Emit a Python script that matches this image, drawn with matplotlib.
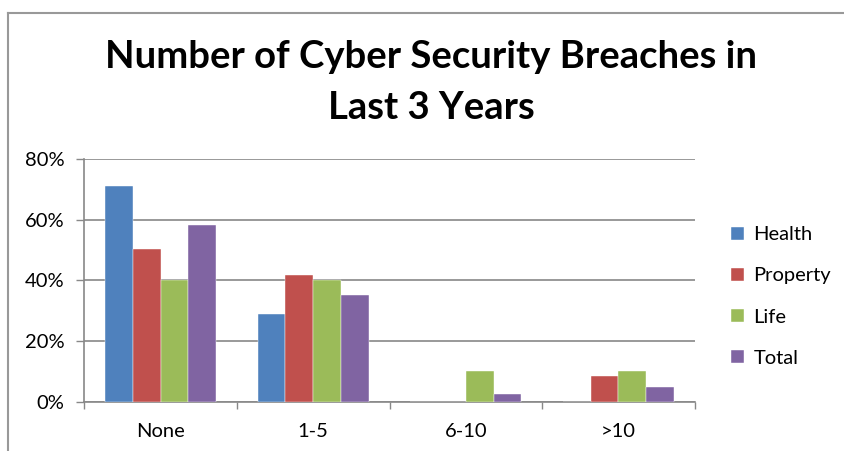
import numpy as np
import matplotlib
matplotlib.use("Agg")
from matplotlib import pyplot as plt
from matplotlib.lines import Line2D

categories = ['None', '1-5', '6-10', '>10']
series = ['Health', 'Property', 'Life', 'Total']
health = [71.3, 28.8, 0, 0]
property_ = [50.4, 41.8, 0, 8.4]
life = [40.1, 40.0, 10.0, 10.0]
total = [58.3, 35.1, 2.6, 4.9]
colors = ['#4F81BD', '#C0504D', '#9BBB59', '#8064A2']

plt.rcParams['font.family'] = ['Lato', 'DejaVu Sans']

fig = plt.figure(figsize=(8.44, 4.51), dpi=100)
ax = fig.add_axes([0.0999, 0.1093, 0.7232, 0.5375])

x = np.arange(len(categories))
bw = 1 / 5.5
values = [health, property_, life, total]
for i, (name, vals) in enumerate(zip(series, values)):
    ax.bar(x - 1.5 * bw + i * bw, vals, width=bw, color=colors[i], label=name,
           edgecolor='white', linewidth=0.3, zorder=3)

ax.set_xlim(-0.5, len(categories) - 0.5)
ax.set_ylim(0, 80)
ax.set_yticks([0, 20, 40, 60, 80])
ax.set_yticklabels(['0%', '20%', '40%', '60%', '80%'])
ax.set_xticks(x)
ax.set_xticklabels(categories)
ax.set_xticks(np.arange(-0.5, len(categories)), minor=True)
ax.tick_params(axis='x', which='major', length=0, pad=15, labelsize=14.5)
ax.tick_params(axis='x', which='minor', length=5, color='#888888', width=1)
ax.tick_params(axis='y', length=5.5, color='#888888', width=1, labelsize=14.5, pad=9)
ax.yaxis.grid(True, color='#888888', linewidth=1.2, zorder=0)
for s in ['top', 'right']:
    ax.spines[s].set_visible(False)
for s in ['left', 'bottom']:
    ax.spines[s].set_color('#888888')
    ax.spines[s].set_linewidth(1.2)

fig.text(0.511, 0.817, 'Number of Cyber Security Breaches in\nLast 3 Years',
         ha='center', va='center', fontsize=27.5, fontweight='bold',
         linespacing=1.6)

leg = ax.legend(loc='center left', bbox_to_anchor=(1.0595, 0.434),
                frameon=False, fontsize=14.5, handlelength=0.62, handleheight=0.62,
                labelspacing=1.2, handletextpad=0.5, borderpad=0, borderaxespad=0)

# outer chart border (partly cropped in the original)
fig.add_artist(Line2D([8 / 844, 8 / 844], [0, 1 - 13 / 451], color='#999999', lw=1.5))
fig.add_artist(Line2D([8 / 844, 1], [1 - 13 / 451, 1 - 13 / 451], color='#999999', lw=1.5))

fig.savefig('out.png', dpi=100)
